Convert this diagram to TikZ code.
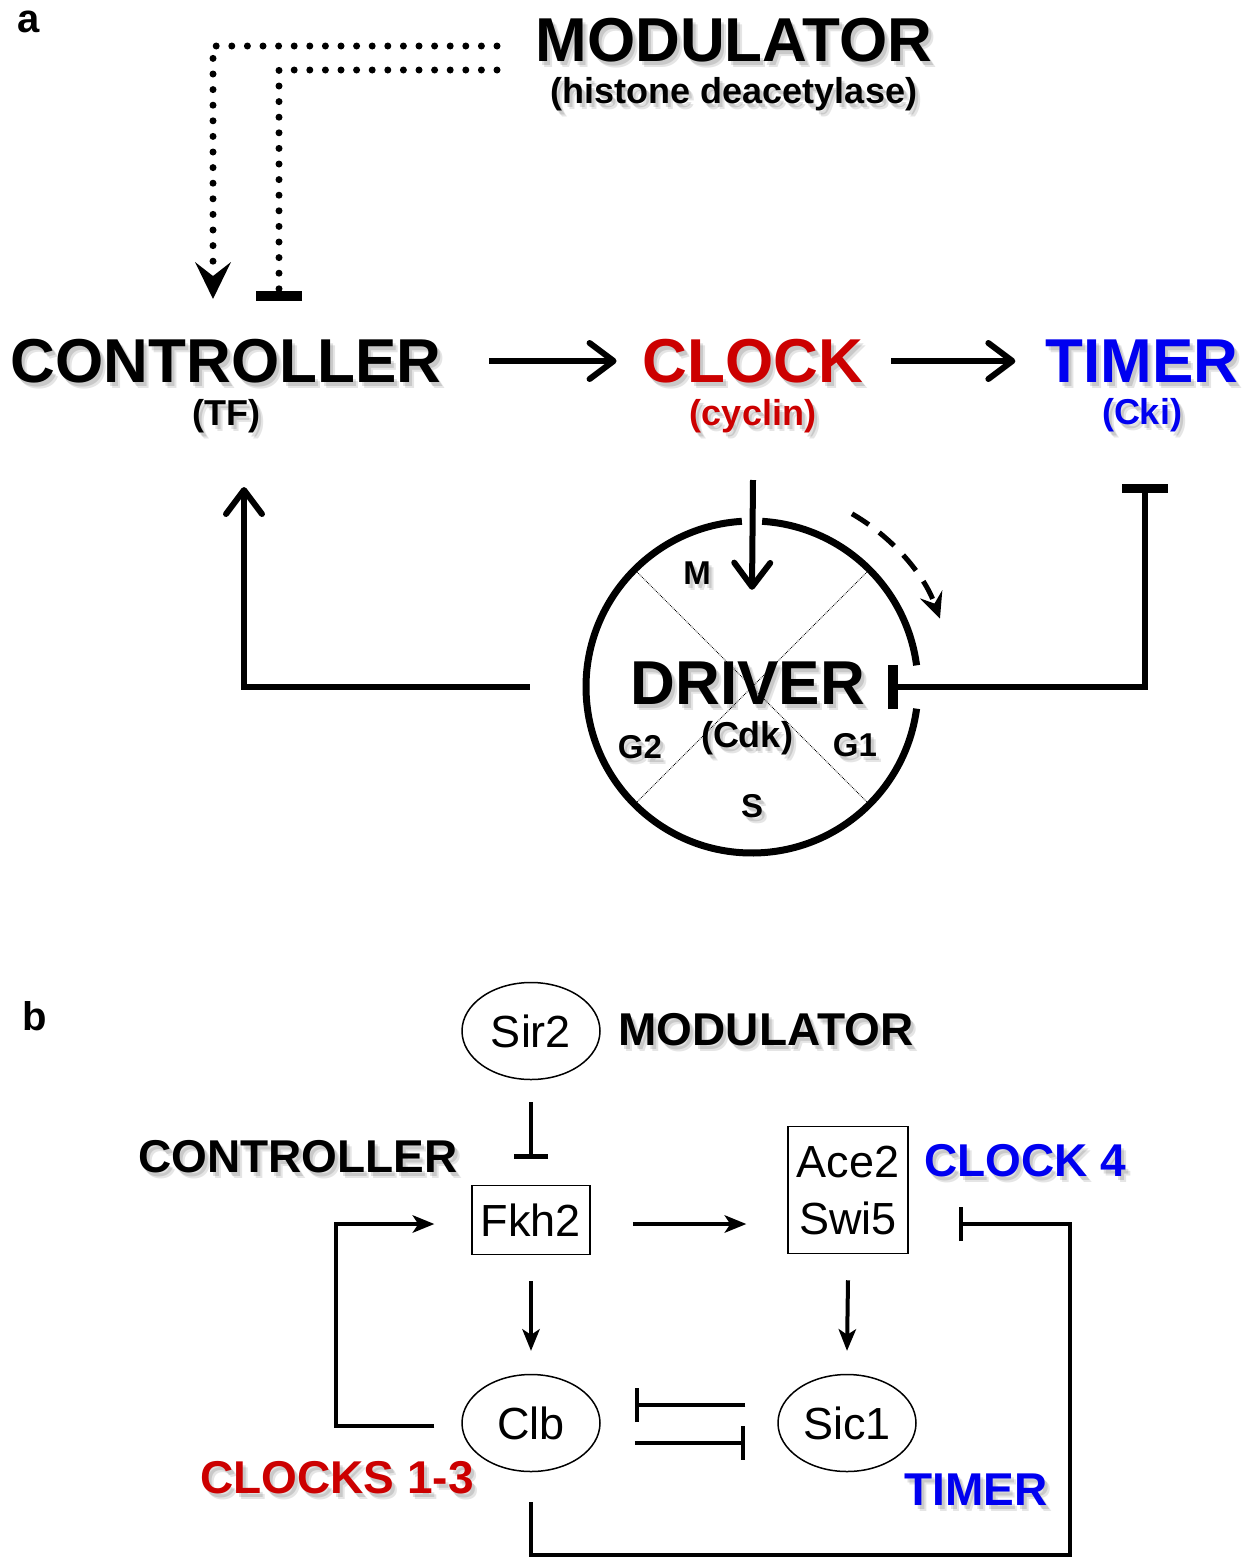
\documentclass[tikz,border=0pt]{standalone}
\usepackage{fontspec}
\setmainfont{Liberation Sans}
\usetikzlibrary{arrows.meta, positioning, shapes.geometric, calc}
\definecolor{clockred}{RGB}{204,0,0}
\definecolor{timerblue}{RGB}{0,0,240}
\tikzset{
  big/.style={font=\bfseries\fontsize{62}{70}\selectfont, inner sep=0pt}, % main roles, panel a
  sub/.style={font=\bfseries\fontsize{36}{42}\selectfont, inner sep=0pt}, % protein names
  phase/.style={font=\bfseries\fontsize{33}{40}\selectfont, inner sep=0pt},
  role/.style={font=\bfseries\fontsize{46}{52}\selectfont, inner sep=0pt}, % roles, panel b
  panel/.style={font=\bfseries\fontsize{40}{48}\selectfont, inner sep=0pt},
  gene/.style={draw, line width=1.5pt, font=\fontsize{45}{57}\selectfont, inner sep=0pt},
  arr/.style={line width=6pt, -{Straight Barb[length=24pt, width=36pt, round]}},
  blk/.style={line width=6pt, {Bar[width=46pt, line width=9pt]}-{Bar[width=44pt, line width=10pt]}},
  dots/.style={line width=7pt, line cap=round, dash pattern=on 0pt off 15.6pt},
  ring/.style={line width=7pt},
  phaseline/.style={line width=0.8pt, densely dotted},
  turn/.style={line width=5pt, dash pattern=on 20pt off 13pt,
    -{Stealth[length=26pt, width=24pt, inset=10pt, line width=0pt]}},
  arrb/.style={line width=4pt, -{Stealth[length=22pt, width=18pt, inset=6pt, line width=0pt]}},
  inhb/.style={line width=4pt, -{Bar[width=34pt, line width=4.5pt]}},
}
% text with a soft grey drop shadow: name, options, text
\newcommand{\shadowed}[3]{%
  \node[#2, text=black, text opacity=0.1, xshift=5pt, yshift=-6pt] (#1-s2) {#3};
  \node[#2, text=black, text opacity=0.12, xshift=3pt, yshift=-4pt] (#1-s1) {#3};
  \node[#2] (#1) {#3};}

\begin{document}
\begin{tikzpicture}[x=1pt, y=-1pt]
  \useasboundingbox (0,0) rectangle (1251,1558);

  % panel a
  \node[panel] (pa) at (29,22) {a};
  \shadowed{mod}{big, at={(734,40)}}{MODULATOR}
  \shadowed{modsub}{sub, below=15pt of mod}{(histone deacetylase)}
  \shadowed{ctl}{big, at={(226,361)}}{CONTROLLER}
  \shadowed{ctlsub}{sub, below=16pt of ctl}{(TF)}
  \shadowed{clk}{big, text=clockred, at={(753,361)}}{CLOCK}
  \shadowed{clksub}{sub, text=clockred, below=16pt of clk}{(cyclin)}
  \shadowed{tmr}{big, text=timerblue, at={(1142,361)}}{TIMER}
  \shadowed{tmrsub}{sub, text=timerblue, below=16pt of tmr}{(Cki)}

  \node[circle, minimum size=332, inner sep=0pt] (drv) at (752,687) {};
  \draw[ring] (drv.center) ++(-93.5:166) arc[start angle=-93.5, end angle=-352.5, radius=166];
  \draw[ring] (drv.center) ++(-7.5:166) arc[start angle=-7.5, end angle=-86.5, radius=166];
  \draw[phaseline] (drv.north west) -- (drv.south east);
  \draw[phaseline] (drv.north east) -- (drv.south west);
  \shadowed{drvtxt}{big, at={(748,683)}}{DRIVER}
  \shadowed{cdk}{sub, at={(747,738)}}{(Cdk)}
  \shadowed{phm}{phase, at={(697,573)}}{M}
  \shadowed{phgtwo}{phase, at={(640,747)}}{G2}
  \shadowed{phgone}{phase, at={(855,745)}}{G1}
  \shadowed{phs}{phase, at={(752,806)}}{S}

  \coordinate (modA) at (497,46);
  \coordinate (modB) at (497,70);
  \coordinate (ctlA) at (213,299);
  \coordinate (ctlB) at (279,301);
  \coordinate (clkout) at (753,480);
  \coordinate (ctlin) at (244,487);
  \coordinate (tmrout) at (1145,484);

  \draw[dots, -{Stealth[length=37pt, width=36pt, inset=14pt, line width=0pt]}] (modA) -| (ctlA);
  \draw[dots, -{Bar[width=46pt, line width=10pt]}] (modB) -| (ctlB);
  \draw[arr] ([xshift=48pt]ctl.east) -- ([xshift=-26pt]clk.west);
  \draw[arr] ([xshift=28pt]clk.east) -- ([xshift=-30pt]tmr.west);
  \draw[arr] (clkout) -- ([yshift=-69pt]drv.north);
  \draw[arr] ([xshift=-56pt]drv.west) -| (ctlin);
  \draw[blk] (tmrout) |- ([xshift=-30pt]drv.east);
  \draw[turn] (drv.center) ++(-60:200) arc[start angle=-60, end angle=-20, radius=200];

  % panel b
  \node[panel] (pb) at (35,1016) {b};
  \node[gene, ellipse, minimum width=138, minimum height=97] (sir) at (531,1031) {Sir2};
  \shadowed{modb}{role, at={(766,1030)}}{MODULATOR}
  \shadowed{ctlb}{role, at={(298,1157)}}{CONTROLLER}
  \node[gene, minimum width=118, minimum height=69] (fkh) at (531,1220) {Fkh2};
  \node[gene, align=center, minimum width=120, minimum height=127] (ace) at (848,1190) {Ace2\\Swi5};
  \shadowed{clkfour}{role, text=timerblue, at={(1025,1161)}}{CLOCK 4}
  \node[gene, ellipse, minimum width=138, minimum height=97] (clb) at (531,1423) {Clb};
  \node[gene, ellipse, minimum width=138, minimum height=97] (sic) at (847,1423) {Sic1};
  \shadowed{clkb}{role, text=clockred, at={(337,1478)}}{CLOCKS 1-3}
  \shadowed{tmrb}{role, text=timerblue, at={(976,1490)}}{TIMER}

  \coordinate (loopb) at (1070,1555);
  \draw[inhb] ([yshift=-22pt]sir.south) -- ([yshift=26pt]fkh.north);
  \draw[arrb] ($(fkh.east)+(42,4)$) -- ($(ace.west |- fkh.east)+(-41,4)$);
  \draw[arrb] ([yshift=-26pt]fkh.south) -- ([yshift=23pt]clb.north);
  \draw[arrb] ([yshift=-26pt]ace.south) -- ([yshift=23pt]sic.north);
  \draw[inhb] ([xshift=-32pt,yshift=18pt]sic.west) -- ([xshift=34pt,yshift=18pt]clb.east);
  \draw[inhb] ([xshift=34pt,yshift=-20pt]clb.east) -- ([xshift=-32pt,yshift=-20pt]sic.west);
  \draw[arrb] ([xshift=-27pt,yshift=-3pt]clb.west) -- ++(-98,0) |- ([xshift=-37pt,yshift=-4pt]fkh.west);
  \draw[inhb] ([yshift=-30pt]clb.south) |- (loopb) |- ([xshift=50pt,yshift=-34pt]ace.east);
\end{tikzpicture}
\end{document}
